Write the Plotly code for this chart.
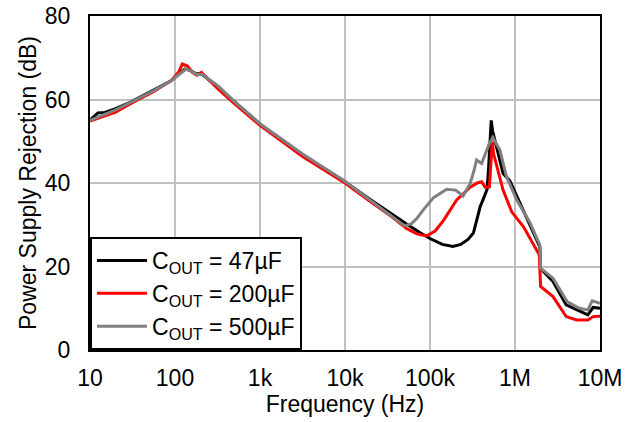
import plotly.graph_objects as go

# Frequency (Hz) and PSRR (dB) for each output capacitance
freq_47 = [10, 12.4, 15, 20, 30, 57, 90, 110, 130, 150, 175, 205, 323, 500, 1000, 3200,
           10000, 20000, 35000, 53000, 75000, 100000, 140000, 186000, 230000, 280000,
           324000, 360000, 389000, 430000, 470000, 490000, 510000, 525000, 545000, 582000,
           650000, 724000, 870000, 1150000, 1500000, 1960000, 2000000, 2800000, 4000000,
           5300000, 7200000, 8300000, 10000000]
psrr_47 = [55.1, 56.8, 56.9, 57.8, 59.4, 62.3, 64.5, 66.0, 67.3, 67.0, 66.2, 66.1, 63.0, 59.5,
           54.1, 46.7, 40.3, 36.0, 32.6, 30.2, 28.2, 26.7, 25.3, 24.8, 25.3, 26.5, 28.0, 31.5,
           34.3, 36.5, 38.5, 44.0, 51.0, 55.0, 52.5, 50.0, 46.0, 42.3, 40.5, 35.1, 30.0, 24.7,
           19.5, 16.4, 10.8, 9.6, 8.4, 10.2, 10.0]

freq_200 = [10, 15, 20, 30, 57, 90, 110, 122, 140, 160, 180, 205, 230, 323, 500, 1000, 3200,
            10000, 20000, 35000, 53000, 70000, 91000, 115000, 145000, 205000, 297000, 360000,
            405000, 445000, 500000, 520000, 540000, 560000, 600000, 724000, 915000, 1260000,
            1930000, 2000000, 2800000, 4000000, 5300000, 7200000, 8300000, 10000000]
psrr_200 = [54.8, 56.2, 57.0, 59.0, 62.0, 64.5, 66.5, 68.5, 68.0, 66.5, 65.8, 66.5, 65.5, 62.5,
            59.0, 53.8, 46.3, 40.0, 35.5, 32.0, 29.1, 27.8, 27.3, 28.5, 31.1, 35.9, 39.0, 40.0,
            40.3, 39.0, 39.1, 45.0, 49.9, 47.0, 44.7, 38.3, 33.1, 29.5, 22.8, 15.2, 12.8, 8.0,
            7.2, 7.2, 8.0, 8.1]

freq_500 = [10, 15, 20, 30, 57, 90, 115, 135, 155, 180, 210, 323, 500, 1000, 3200, 10000,
            20000, 35000, 50000, 60000, 70000, 83000, 110000, 157000, 200000, 245000, 297000,
            330000, 353000, 405000, 430000, 455000, 500000, 550000, 600000, 665000, 795000,
            1050000, 1500000, 1960000, 2000000, 2800000, 4100000, 5700000, 7200000, 8100000,
            10000000]
psrr_500 = [55.0, 56.5, 57.5, 59.3, 62.2, 64.5, 66.3, 67.3, 66.8, 66.0, 66.0, 63.2, 59.5, 54.2,
            46.9, 40.4, 35.8, 32.0, 29.8, 30.2, 31.5, 33.5, 36.5, 38.5, 38.3, 36.9, 39.9, 43.0,
            45.5, 44.7, 46.0, 47.1, 49.5, 50.9, 49.5, 47.9, 41.5, 35.9, 30.5, 25.1, 19.6, 17.2,
            11.6, 10.0, 9.6, 11.8, 11.2]

x_tickvals = [10, 100, 1000, 10000, 100000, 1000000, 10000000]
x_ticktext = ["10", "100", "1k", "10k", "100k", "1M", "10M"]
y_tickvals = [0, 20, 40, 60, 80]

series = [
    (freq_47, psrr_47, "C<sub>OUT</sub> = 47µF", "#000000"),
    (freq_200, psrr_200, "C<sub>OUT</sub> = 200µF", "#ff0000"),
    (freq_500, psrr_500, "C<sub>OUT</sub> = 500µF", "#808080"),
]

fig = go.Figure()
for fx, fy, name, color in series:
    fig.add_trace(go.Scatter(x=fx, y=fy, mode="lines", name=name,
                             line=dict(color=color, width=3)))

font_family = "Liberation Sans, Arial, sans-serif"
fig.update_layout(
    width=637, height=422,
    margin=dict(l=90, r=37, t=16, b=72),
    paper_bgcolor="white", plot_bgcolor="white",
    font=dict(family=font_family, size=23, color="black"),
    showlegend=True,
    legend=dict(x=0, y=0, xanchor="left", yanchor="bottom",
                bgcolor="white", bordercolor="black", borderwidth=2,
                font=dict(size=23), tracegroupgap=0, itemwidth=50),
    xaxis=dict(type="log", range=[1, 7], tickvals=x_tickvals, ticktext=x_ticktext,
               showgrid=True, gridcolor="#c0c0c0", gridwidth=2,
               showline=True, linecolor="black", linewidth=2, mirror=True,
               ticks="", ticklabelstandoff=6, automargin=False,
               ticklabeloverflow="allow",
               tickfont=dict(size=23),
               title=dict(text="Frequency (Hz)", standoff=4, font=dict(size=23)),
               zeroline=False),
    yaxis=dict(range=[0, 80], tickvals=y_tickvals,
               showgrid=True, gridcolor="#c0c0c0", gridwidth=2,
               showline=True, linecolor="black", linewidth=2, mirror=True,
               ticks="", ticklabelstandoff=13, automargin=False,
               ticklabeloverflow="allow",
               tickfont=dict(size=23),
               title=dict(text="Power Supply Rejection (dB)", standoff=2,
                          font=dict(size=23, family="Liberation Sans Narrow, Arial Narrow, sans-serif")),
               zeroline=False),
)

# remove the browser's default 8px body margin so the figure fills the window
fig.write_html("out.html", config={"displayModeBar": False},
               post_script="document.body.style.margin='0';")
